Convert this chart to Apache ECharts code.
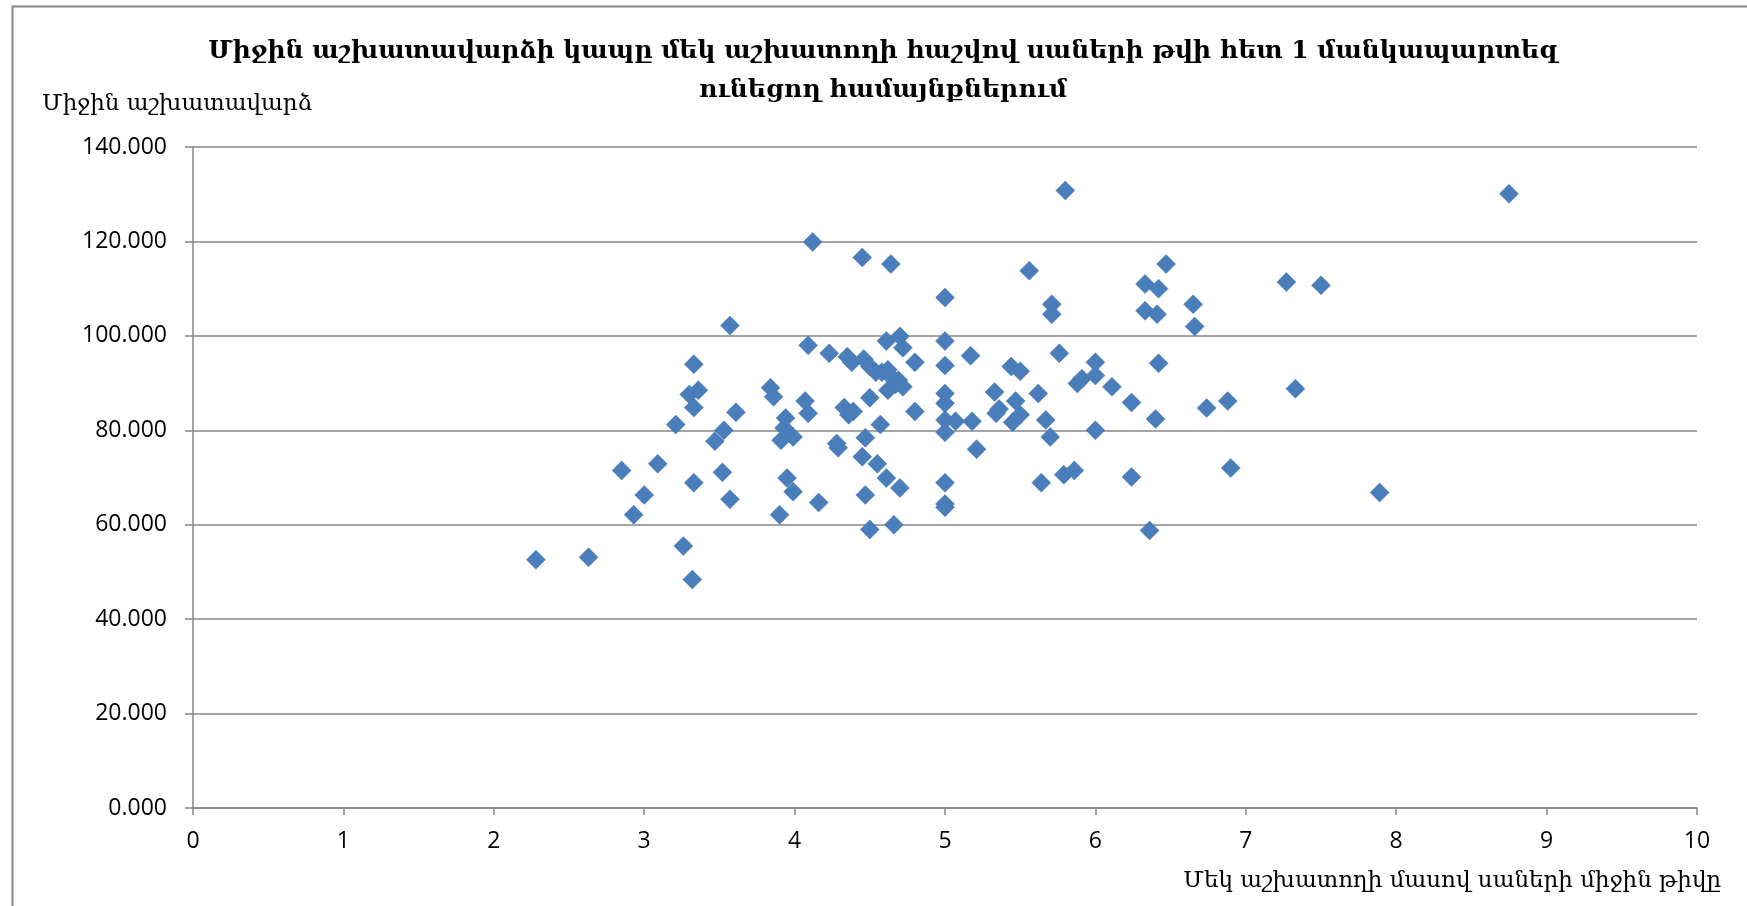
<!DOCTYPE html>
<html>
<head>
<meta charset="utf-8">
<script src="https://cdn.jsdelivr.net/npm/echarts@6/dist/echarts.min.js"></script>
<style>
html,body{margin:0;padding:0;background:#fff;}
#chart{width:1747px;height:906px;}
</style>
</head>
<body>
<div id="chart"></div>
<script>
const titleText = 'Միջին աշխատավարձի կապը մեկ աշխատողի հաշվով սաների թվի հետ 1 մանկապարտեզ\nունեցող համայնքներում';
const yAxisName = 'Միջին աշխատավարձ';
const xAxisName = 'Մեկ աշխատողի մասով սաների միջին թիվը';

const childrenPerWorker = [
2.28,2.63,2.85,2.93,3.00,3.09,3.21,3.26,3.30,3.32,3.33,3.33,3.33,3.36,3.47,3.53,3.52,3.57,3.57,3.61,
3.84,3.86,3.90,3.91,3.93,3.94,3.95,3.99,3.99,4.07,4.09,4.09,4.12,4.16,4.23,4.28,4.29,4.33,4.35,4.36,
4.38,4.39,4.45,4.46,4.45,4.47,4.47,4.50,4.50,4.50,4.54,4.55,4.57,4.58,4.61,4.61,4.62,4.64,4.64,4.66,
4.67,4.69,4.70,4.70,4.72,4.72,4.80,4.80,5.00,5.00,5.00,5.00,5.00,5.00,5.00,5.00,5.00,5.00,5.07,5.17,
5.18,5.21,5.33,5.34,5.36,5.44,5.45,5.47,5.50,5.50,5.56,5.62,5.64,5.67,5.70,5.71,5.71,5.76,5.79,5.80,
5.86,5.88,5.91,6.00,6.00,6.00,6.11,6.24,6.24,6.33,6.33,6.36,6.40,6.41,6.42,6.42,6.47,6.65,6.66,6.74,
6.88,6.90,7.27,7.33,7.50,7.89,8.75,4.62
];
const averageSalary = [
52.6,53.1,71.5,62.1,66.3,72.9,81.2,55.5,87.6,48.4,68.9,94.0,84.8,88.5,77.7,80.0,71.1,102.2,65.4,83.8,
89.0,87.1,62.1,77.9,80.5,82.6,69.9,78.6,67.0,86.2,98.0,83.6,119.9,64.7,96.3,77.2,76.3,84.8,95.6,83.3,
94.4,84.0,116.6,95.1,74.4,78.4,66.3,86.9,93.5,59.0,92.3,72.9,81.2,92.3,98.9,69.9,88.5,115.2,91.4,60.0,
89.7,90.6,99.9,67.8,97.5,89.2,84.0,94.4,108.1,98.9,93.7,87.8,85.7,82.2,79.6,68.9,64.4,63.7,81.9,95.8,
81.9,76.0,88.1,83.6,84.5,93.5,81.7,86.2,92.5,83.3,113.8,87.8,68.9,82.2,78.6,106.7,104.6,96.3,70.6,130.8,
71.5,89.9,90.9,94.4,91.6,80.0,89.2,85.9,70.1,111.0,105.3,58.8,82.4,104.6,110.0,94.2,115.2,106.7,102.0,84.7,
86.2,72.0,111.4,88.8,110.7,66.8,130.1,92.8
];

const points = childrenPerWorker.map((x, i) => [x, averageSalary[i]]);

const chart = echarts.init(document.getElementById('chart'), null, {renderer: 'canvas'});
const armFont = "'DejaVu Serif', 'DejaVu Sans', serif";
const numFont = "'Open Sans', 'Liberation Sans', sans-serif";
chart.setOption({
  animation: false,
  backgroundColor: '#ffffff',
  title: {
    text: titleText,
    left: 878,
    textAlign: 'center',
    top: 27,
    textStyle: {
      fontFamily: armFont,
      fontWeight: 'bold',
      fontSize: 25,
      lineHeight: 39,
      color: '#000'
    }
  },
  grid: {left: 193, right: 50, top: 147, bottom: 98, containLabel: false},
  xAxis: {
    type: 'value',
    min: 0, max: 10, interval: 1,
    axisLine: {show: true, onZero: false, lineStyle: {color: '#868686', width: 1.5}},
    axisTick: {show: true, inside: false, length: 7, lineStyle: {color: '#868686', width: 1.5}},
    splitLine: {show: false},
    axisLabel: {margin: 22, fontFamily: numFont, fontSize: 23, color: '#000'}
  },
  yAxis: {
    type: 'value',
    min: 0, max: 140, interval: 20,
    axisLine: {show: true, lineStyle: {color: '#868686', width: 1.5}},
    axisTick: {show: true, inside: false, length: 8, lineStyle: {color: '#868686', width: 1.5}},
    splitLine: {show: true, lineStyle: {color: '#868686', width: 1.5}},
    axisLabel: {
      margin: 26, fontFamily: numFont, fontSize: 23, color: '#000',
      formatter: v => v.toFixed(3)
    }
  },
  graphic: [
    {type: 'rect', left: 10, top: 4, shape: {width: 1760, height: 920},
     style: {fill: 'none', stroke: '#868686', lineWidth: 2}, silent: true, z: -1},
    {type: 'text', left: 42, top: 93, style: {text: yAxisName, font: "23px 'DejaVu Serif', 'DejaVu Sans', serif", fill: '#000'}},
    {type: 'text', right: 26, top: 870, style: {text: xAxisName, font: "23px 'DejaVu Serif', 'DejaVu Sans', serif", fill: '#000'}}
  ],
  series: [{
    type: 'scatter',
    data: points,
    symbol: 'diamond',
    symbolSize: 19,
    itemStyle: {color: '#4A7EBB', borderColor: '#4677B3', borderWidth: 0.5, opacity: 1}
  }]
});
</script>
</body>
</html>
